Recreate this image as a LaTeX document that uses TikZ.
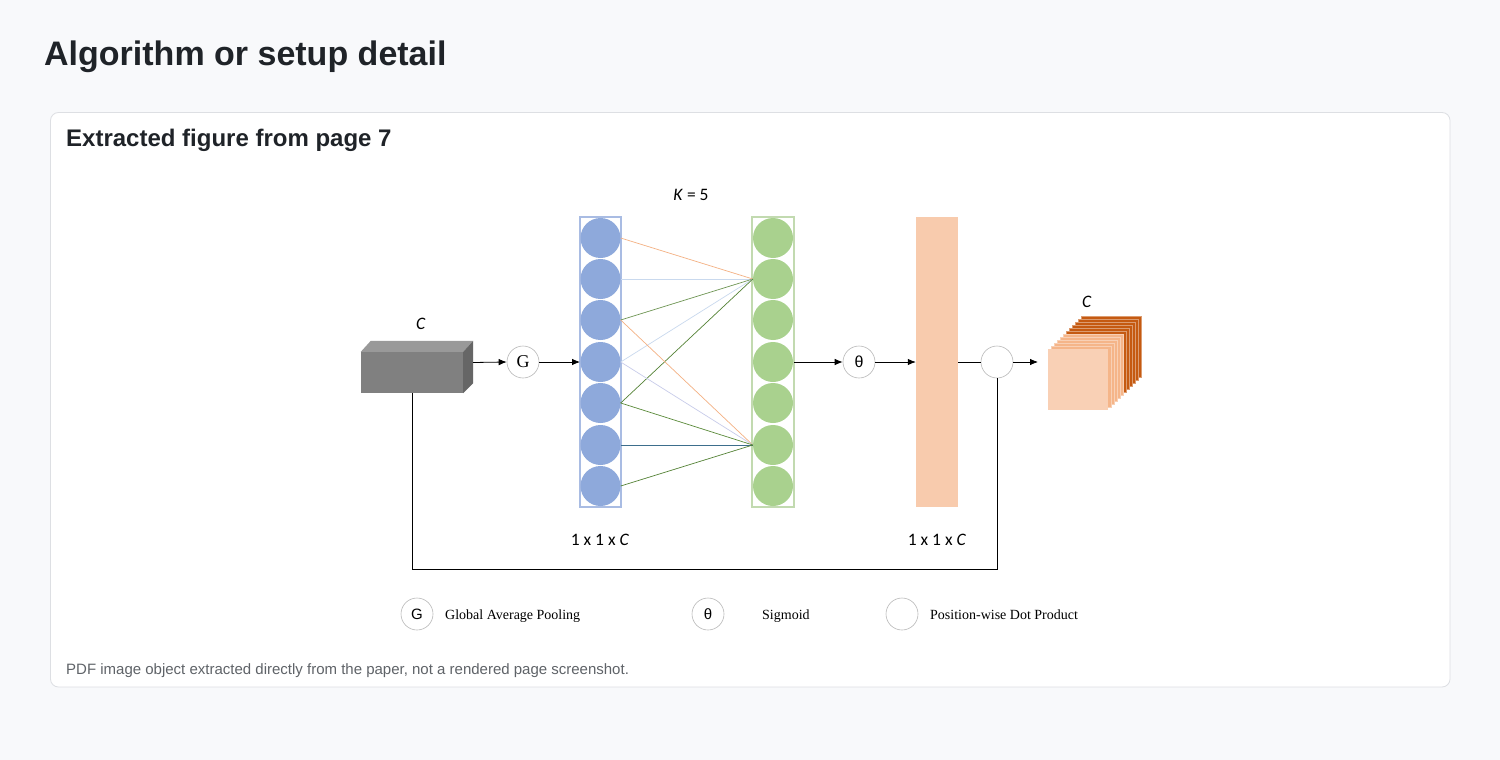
\documentclass[tikz,border=0pt]{standalone}
\usepackage{fontspec}
\setmainfont{Liberation Sans}
\newfontfamily\carfont{Carlito}
\newfontfamily\tnrfont{Liberation Serif}
\usetikzlibrary{arrows.meta,calc}
\definecolor{pagebg}{HTML}{F8F9FB}
\definecolor{cardline}{HTML}{DDDFE3}
\definecolor{titlecol}{HTML}{1F2328}
\definecolor{footcol}{HTML}{5F6368}
\definecolor{bluenode}{HTML}{8EA9DB}
\definecolor{blueframe}{HTML}{A9BCE3}
\definecolor{greennode}{HTML}{A9D18E}
\definecolor{greenframe}{HTML}{C2DAB0}
\definecolor{peach}{HTML}{F8CBAD}
\definecolor{midorange}{HTML}{F4B183}
\definecolor{darkorange}{HTML}{C55A11}
\definecolor{lorange}{HTML}{F4B183}
\definecolor{lblue}{HTML}{C9D9EE}
\definecolor{lav}{HTML}{C8CCEA}
\definecolor{dgreen}{HTML}{548235}
\definecolor{mgreen}{HTML}{70AD47}
\definecolor{tealc}{HTML}{3D6E8C}
\begin{document}
\begin{tikzpicture}[x=1pt,y=-1pt,
  opnode/.style={circle,draw=gray!55,line width=0.6pt,minimum size=32pt,inner sep=0pt,fill=white},
  bnode/.style={circle,fill=bluenode,minimum size=40pt,inner sep=0pt},
  gnode/.style={circle,fill=greennode,minimum size=40pt,inner sep=0pt},
  arr/.style={-{Latex[length=8pt,width=6.5pt]},line width=0.8pt},
  plain/.style={line width=0.8pt},
  conn/.style={line width=0.7pt},
  lab/.style={font=\carfont\fontsize{17.5}{20}\selectfont},
  legtext/.style={font=\tnrfont\fontsize{14}{16}\selectfont,anchor=base west,inner sep=0pt}]
\useasboundingbox (0,0) rectangle (1500,760);
\fill[pagebg] (0,0) rectangle (1500,760);
\draw[cardline,fill=white,rounded corners=8pt,line width=0.8pt] (50.5,112.5) rectangle (1450,687);
\node[anchor=base west,inner sep=0pt,text=titlecol,font=\bfseries\fontsize{34}{40}\selectfont] (title) at (44,66) {Algorithm or setup detail};
\node[anchor=base west,inner sep=0pt,text=titlecol,font=\bfseries\fontsize{24}{28}\selectfont] (sub) at (66,146) {Extracted figure from page 7};
\node[anchor=base west,inner sep=0pt,text=footcol,font=\fontsize{15}{18}\selectfont] (foot) at (66,674) {PDF image object extracted directly from the paper, not a rendered page screenshot.};
% input cube
\node[fill=black!50,minimum width=102pt,minimum height=41pt,inner sep=0pt] (cube) at (412,372.5) {};
\fill[black!40] (cube.north west) -- ++(10,-11) -- ($(cube.north east)+(10,-11)$) -- (cube.north east) -- cycle;
\fill[black!60] (cube.north east) -- ++(10,-11) -- ($(cube.south east)+(10,-10)$) -- (cube.south east) -- cycle;
\coordinate (cubeout) at ($(cube.east)+(10,-10)$);
\node[lab] (lc) at (421,324) {\textit{C}};
% G
\node[opnode,font=\tnrfont\fontsize{18}{20}\selectfont] (G) at (523,362) {G};
% blue column
\draw[blueframe,line width=2pt] (580,217) rectangle (621,507);
\foreach \i/\y in {1/238,2/279,3/320,4/362,5/403,6/445,7/486}
  \node[bnode] (b\i) at (600.5,\y) {};
\draw[greenframe,line width=2pt] (752,217) rectangle (794,507);
\foreach \i/\y in {1/238,2/279,3/320,4/362,5/403,6/445,7/486}
  \node[gnode] (g\i) at (773,\y) {};
\node[lab] (k) at (691,195) {\textit{K} = 5};
% connections
\draw[conn,lorange] (b1.east) -- (g2.west);
\draw[conn,lblue] (b2.east) -- (g2.west);
\draw[conn,dgreen!85] (b3.east) -- (g2.west);
\draw[conn,lblue] (b4.east) -- (g2.west);
\draw[conn,dgreen] (b5.east) -- (g2.west);
\draw[conn,lorange] (b3.east) -- (g6.west);
\draw[conn,lav] (b4.east) -- (g6.west);
\draw[conn,mgreen!80!black] (b5.east) -- (g6.west);
\draw[conn,tealc] (b6.east) -- (g6.west);
\draw[conn,dgreen] (b7.east) -- (g6.west);
% theta
\node[opnode,font=\fontsize{16}{18}\selectfont] (T) at (859,362) {θ};
\node[fill=peach,minimum width=42pt,minimum height=290pt,inner sep=0pt] (bar) at (937,362) {};
\node[opnode] (D) at (997,362) {};
\coordinate (outend) at (1038,362);
\draw[arr] (cubeout) -- (G.west);
\draw[arr] (G.east) -- (580,362) coordinate (bin);
\draw[arr] (794,362) coordinate (gout) -- (T.west);
\draw[arr] (T.east) -- (bar.west);
\draw[plain] (bar.east) -- (D.west);
\draw[arr] (D.east) -- (outend);
\draw[plain] (cube.south) -- (412,569) -| (D.south);
\node[lab] (l1) at (600,540) {1 x 1 x \textit{C}};
\node[lab] (l2) at (937,540) {1 x 1 x \textit{C}};
% output stack
\foreach \i in {11,10,...,6}
  \filldraw[fill=darkorange,draw=darkorange!60!white,line width=0.4pt] (1048+3*\i,349-3*\i) rectangle ++(60,61);
\foreach \i in {5,4,...,1}
  \filldraw[fill=midorange!85!peach,draw=midorange!60!white,line width=0.3pt] (1048+3*\i,349-3*\i) rectangle ++(60,61);
\node[fill=peach!90!white,minimum width=60pt,minimum height=61pt,inner sep=0pt,anchor=north west] (out) at (1048,349) {};
\node[lab] (lc2) at (1087,302) {\textit{C}};
% legend
\node[opnode,font=\fontsize{15}{18}\selectfont] (lg) at (417,614) {G};
\node[legtext] (lgt) at (445,619) {Global Average Pooling};
\node[opnode,font=\fontsize{15}{18}\selectfont] (lt) at (708,614) {θ};
\node[legtext] (ltt) at (762,619) {Sigmoid};
\node[opnode] (ld) at (902,614) {};
\node[legtext] (ldt) at (930,619) {Position-wise Dot Product};
\end{tikzpicture}
\end{document}
